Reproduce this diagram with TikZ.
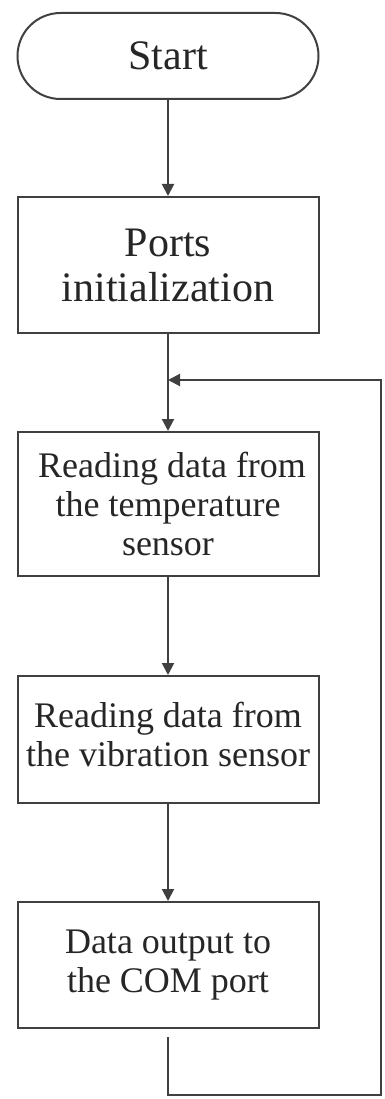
\documentclass[tikz,border=0pt]{standalone}
\usepackage{fontspec}
\setmainfont{Liberation Serif}
\usetikzlibrary{arrows.meta}
\begin{document}
\begin{tikzpicture}[x=1pt,y=-1pt,
  line/.style={line width=2pt, draw=black!75},
  box/.style={draw=black!75, line width=2pt, minimum width=301pt, align=center, inner sep=0pt, text=black!85},
  big/.style={font=\fontsize{42}{45}\selectfont},
  med/.style={font=\fontsize{36}{39}\selectfont},
  arr/.style={line, -{Triangle[length=12pt,width=12pt]}}]
\useasboundingbox (0,0) rectangle (384,1099);
\fill[white] (0,0) rectangle (384,1099);
\node[box, big, minimum height=86pt, rounded corners=43pt] (start) at (168,56) {Start};
\node[box, big, minimum height=136pt] (ports) at (168,265) {Ports\\initialization};
\node[box, med, minimum height=144pt] (temp) at (168,504) {\hspace*{8pt}Reading data from\\the temperature\\sensor};
\node[box, med, minimum height=127pt] (vib) at (168,739.5) {\raisebox{9pt}{\begin{tabular}{@{}c@{}}Reading data from\\the vibration sensor\end{tabular}}};
\node[box, med, minimum height=126pt] (com) at (168,965) {Data output to\\the COM port};
\coordinate (merge) at (168,380);
\coordinate (bl) at (168,1095);
\coordinate (br) at (381,1095);
\coordinate (tr) at (381,380);
\draw[arr] (start) -- (ports);
\draw[arr] (ports) -- (temp);
\draw[arr] (temp) -- (vib);
\draw[arr] (vib) -- (com);
\draw[arr, shorten <=8pt] (com.south) -- (bl) -- (br) -- (tr) -- (merge);
\end{tikzpicture}
\end{document}
